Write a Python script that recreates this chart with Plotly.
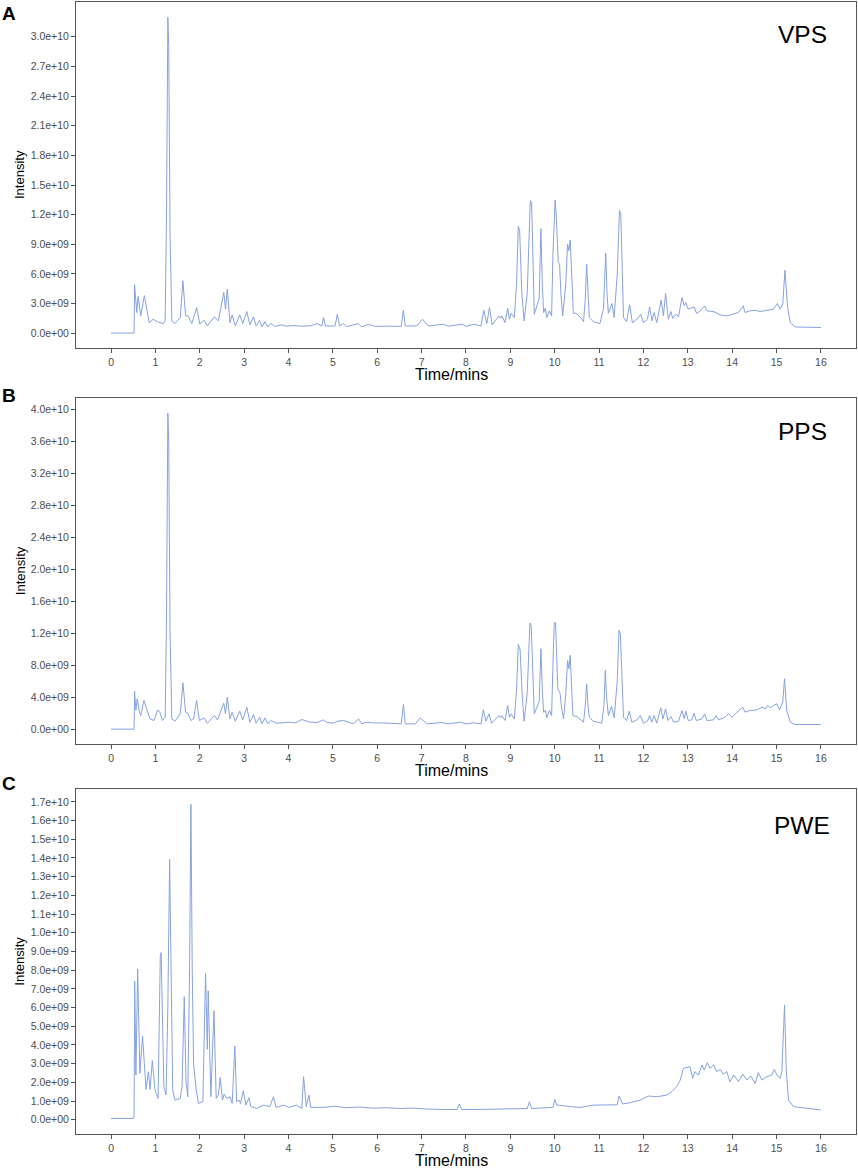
import plotly.graph_objects as go
from plotly.subplots import make_subplots

# intensities are in units of 1e9, times in minutes
SCALE = 1e9

vps_time = [0.00, 0.52, 0.53, 0.58, 0.61, 0.67, 0.75, 0.86, 0.95, 1.05, 1.18, 1.22, 1.25, 1.28, 1.30, 1.33, 1.37,
            1.44, 1.56, 1.62, 1.68, 1.74, 1.82, 1.93, 2.00, 2.10, 2.17, 2.33, 2.42, 2.54, 2.58, 2.62, 2.68, 2.73,
            2.80, 2.90, 2.97, 3.06, 3.13, 3.21, 3.27, 3.35, 3.40, 3.47, 3.53, 3.60, 3.70, 3.85, 3.95, 4.10, 4.30,
            4.50, 4.64, 4.75, 4.79, 4.83, 5.05, 5.10, 5.15, 5.24, 5.31, 5.58, 5.65, 5.76, 5.84, 5.95, 6.20, 6.54,
            6.59, 6.63, 6.89, 7.02, 7.15, 7.49, 7.60, 7.92, 8.00, 8.17, 8.34, 8.40, 8.47, 8.53, 8.59, 8.69, 8.74,
            8.78, 8.81, 8.88, 8.94, 8.98, 9.02, 9.09, 9.14, 9.18, 9.21, 9.26, 9.31, 9.38, 9.45, 9.48, 9.51, 9.54,
            9.65, 9.69, 9.72, 9.75, 9.79, 9.82, 9.88, 9.93, 9.96, 10.01, 10.04, 10.08, 10.11, 10.14, 10.18, 10.25,
            10.29, 10.32, 10.35, 10.39, 10.42, 10.48, 10.57, 10.65, 10.69, 10.72, 10.75, 10.78, 10.87, 11.02,
            11.10, 11.15, 11.18, 11.21, 11.29, 11.34, 11.41, 11.46, 11.49, 11.52, 11.55, 11.62, 11.69, 11.75,
            11.85, 11.94, 12.00, 12.09, 12.14, 12.19, 12.24, 12.30, 12.40, 12.45, 12.50, 12.56, 12.62, 12.66,
            12.74, 12.79, 12.87, 12.92, 12.955, 13.01, 13.09, 13.14, 13.20, 13.28, 13.38, 13.43, 13.58, 13.73,
            13.88, 14.03, 14.14, 14.25, 14.29, 14.40, 14.52, 14.63, 14.78, 14.93, 15.02, 15.08, 15.14, 15.19,
            15.25, 15.31, 15.42, 15.70, 16.00]
vps_int = [0.02, 0.02, 4.91, 2.10, 3.72, 1.76, 3.82, 1.08, 1.42, 1.15, 0.98, 1.30, 12.0, 31.97, 29.0, 10.0, 1.25,
           0.98, 1.59, 5.31, 1.76, 1.76, 0.98, 2.60, 0.91, 1.32, 0.74, 1.66, 1.25, 4.13, 2.44, 4.47, 1.08, 1.86,
           0.74, 1.86, 0.98, 2.20, 0.85, 1.66, 0.74, 1.32, 0.64, 1.18, 0.64, 0.98, 0.70, 0.85, 0.72, 0.78, 0.72,
           0.76, 0.98, 0.74, 1.59, 0.74, 0.74, 1.93, 0.74, 0.98, 0.68, 0.98, 0.64, 0.85, 0.85, 0.70, 0.72, 0.70,
           2.33, 0.74, 0.74, 1.42, 0.74, 0.91, 0.72, 0.91, 0.70, 0.91, 0.74, 2.33, 0.98, 2.60, 0.85, 1.42, 1.76,
           1.52, 1.76, 1.08, 2.54, 1.42, 2.03, 1.59, 5.0, 10.83, 10.39, 4.0, 1.25, 4.0, 13.43, 13.26, 6.0, 1.93,
           3.5, 10.59, 5.0, 2.10, 2.54, 1.59, 2.27, 1.76, 8.0, 13.50, 11.5, 7.17, 7.00, 4.0, 1.76, 5.0,
           9.03, 8.36, 9.44, 4.5, 2.03, 2.03, 1.66, 1.18, 3.5, 7.00, 3.5, 1.59, 1.18, 0.98,
           2.5, 8.12, 4.0, 2.03, 3.01, 1.59, 6.0, 12.42, 12.08, 6.0, 1.59, 1.18, 2.88, 1.08,
           1.42, 1.93, 1.08, 1.42, 2.67, 1.25, 2.10, 1.08, 3.35, 1.76, 4.03, 1.42, 2.20, 1.52,
           1.93, 1.66, 3.62, 2.77, 3.11, 2.44, 2.54, 2.67, 2.00, 2.27, 2.77, 2.27, 2.20, 1.86,
           1.76, 1.93, 2.10, 2.77, 2.10, 2.27, 2.33, 2.20, 2.33, 2.44, 3.01, 2.44, 2.94, 6.39,
           2.60, 1.08, 0.64, 0.60, 0.58]

pps_time = [0.00, 0.52, 0.53, 0.56, 0.59, 0.64, 0.67, 0.74, 0.79, 0.88, 0.97, 1.05, 1.10, 1.16, 1.22, 1.25, 1.28,
            1.30, 1.33, 1.37, 1.44, 1.56, 1.62, 1.68, 1.73, 1.80, 1.86, 1.93, 1.99, 2.10, 2.17, 2.33, 2.40, 2.54,
            2.58, 2.62, 2.68, 2.73, 2.80, 2.90, 2.97, 3.06, 3.13, 3.21, 3.27, 3.35, 3.40, 3.47, 3.53, 3.60, 3.73,
            3.90, 4.03, 4.15, 4.30, 4.49, 4.65, 4.79, 4.85, 5.01, 5.10, 5.24, 5.46, 5.58, 5.65, 5.76, 5.90, 6.14,
            6.54, 6.59, 6.63, 6.86, 6.97, 7.12, 7.46, 7.60, 7.87, 8.00, 8.17, 8.34, 8.39, 8.45, 8.52, 8.58, 8.69,
            8.74, 8.78, 8.81, 8.88, 8.94, 8.98, 9.02, 9.09, 9.14, 9.18, 9.22, 9.27, 9.31, 9.38, 9.44, 9.47, 9.51,
            9.54, 9.65, 9.69, 9.72, 9.75, 9.79, 9.82, 9.88, 9.93, 9.96, 9.99, 10.02, 10.05, 10.07, 10.12, 10.16,
            10.20, 10.25, 10.29, 10.32, 10.35, 10.38, 10.41, 10.50, 10.59, 10.65, 10.69, 10.72, 10.75, 10.78,
            10.87, 11.06, 11.11, 11.14, 11.17, 11.21, 11.28, 11.34, 11.41, 11.45, 11.48, 11.52, 11.55, 11.62,
            11.68, 11.74, 11.85, 11.93, 12.00, 12.09, 12.14, 12.19, 12.24, 12.30, 12.39, 12.44, 12.50, 12.55,
            12.62, 12.68, 12.79, 12.87, 12.92, 12.955, 13.01, 13.09, 13.14, 13.19, 13.32, 13.38, 13.43, 13.58,
            13.64, 13.69, 13.81, 13.92, 14.00, 14.11, 14.24, 14.29, 14.40, 14.56, 14.67, 14.75, 14.80, 14.86,
            14.93, 15.01, 15.07, 15.14, 15.18, 15.23, 15.31, 15.42, 16.00]
pps_int = [0.05, 0.05, 4.80, 2.40, 3.84, 2.17, 1.75, 3.63, 2.79, 1.33, 1.13, 2.46, 2.17, 1.13, 1.54, 14.0, 39.50,
           36.0, 12.0, 1.33, 1.04, 1.96, 5.84, 2.17, 2.04, 1.13, 1.33, 3.63, 1.13, 1.46, 0.79, 1.75, 1.21, 3.30,
           1.96, 4.05, 1.33, 2.17, 1.04, 2.29, 1.21, 2.79, 0.92, 1.88, 0.79, 1.54, 0.71, 1.46, 0.71, 1.13, 0.79,
           0.88, 0.92, 0.83, 1.25, 0.92, 0.88, 1.21, 0.92, 0.79, 1.04, 1.13, 0.71, 1.33, 0.71, 0.92, 0.83, 0.83,
           0.71, 3.13, 0.71, 0.71, 1.46, 0.71, 0.88, 0.71, 0.92, 0.71, 0.83, 0.71, 2.46, 1.04, 1.96, 0.79, 1.54,
           1.75, 1.46, 1.75, 1.13, 3.00, 1.54, 1.96, 1.33, 5.0, 10.64, 9.97, 4.0, 1.04, 4.5, 13.31, 13.01, 6.0,
           1.96, 3.5, 10.09, 5.0, 2.17, 2.38, 1.46, 2.38, 1.75, 8.0, 13.35, 13.31, 8.0, 5.09, 4.55, 2.5,
           1.33, 4.5, 8.63, 7.59, 9.26, 5.0, 1.75, 1.63, 1.13, 0.92, 3.0, 5.71, 3.0, 1.54,
           1.04, 0.79, 3.0, 7.38, 4.0, 1.75, 2.88, 1.46, 6.0, 12.39, 11.97, 5.0, 1.54, 1.13,
           2.29, 0.92, 1.21, 1.75, 0.79, 1.04, 1.75, 0.92, 1.75, 0.79, 2.71, 1.33, 2.59, 1.13,
           1.63, 0.92, 1.04, 2.38, 1.33, 2.29, 1.13, 1.21, 2.04, 1.13, 1.33, 1.96, 1.13, 1.21,
           1.75, 1.21, 1.46, 1.96, 1.54, 2.17, 2.79, 2.17, 2.38, 2.46, 2.79, 2.59, 3.00, 2.71,
           3.00, 3.21, 2.46, 3.42, 6.34, 2.38, 0.92, 0.63, 0.63]

pwe_time = [0.00, 0.51, 0.52, 0.533, 0.56, 0.60, 0.65, 0.71, 0.75, 0.79, 0.84, 0.88, 0.93, 0.99, 1.06, 1.11, 1.13,
            1.19, 1.24, 1.28, 1.32, 1.36, 1.39, 1.44, 1.56, 1.60, 1.65, 1.69, 1.73, 1.77, 1.80, 1.83, 1.86, 1.92,
            1.97, 2.07, 2.13, 2.17, 2.19, 2.25, 2.32, 2.37, 2.42, 2.46, 2.51, 2.55, 2.61, 2.68, 2.73, 2.79, 2.83,
            2.89, 2.92, 2.98, 3.04, 3.11, 3.15, 3.28, 3.43, 3.58, 3.66, 3.72, 3.90, 4.00, 4.18, 4.30, 4.34, 4.40,
            4.46, 4.50, 4.80, 5.05, 5.30, 5.60, 5.90, 6.20, 6.50, 6.80, 7.10, 7.50, 7.80, 7.85, 7.90, 8.30, 8.70,
            9.10, 9.38, 9.43, 9.48, 9.96, 10.00, 10.05, 10.09, 10.35, 10.57, 10.87, 11.14, 11.36, 11.41, 11.45,
            11.53, 11.70, 11.93, 12.11, 12.30, 12.53, 12.64, 12.75, 12.83, 12.90, 12.96, 13.05, 13.11, 13.16,
            13.24, 13.32, 13.37, 13.44, 13.50, 13.58, 13.65, 13.73, 13.80, 13.88, 13.95, 14.04, 14.14, 14.24,
            14.33, 14.42, 14.52, 14.59, 14.67, 14.78, 14.89, 14.95, 15.01, 15.08, 15.12, 15.18, 15.22, 15.27,
            15.38, 15.68, 16.00]
pwe_int = [0.07, 0.07, 0.34, 7.42, 2.39, 8.06, 2.48, 4.48, 3.01, 1.62, 2.57, 1.62, 3.16, 1.59, 1.14, 8.81, 8.94,
           1.77, 1.32, 6.0, 13.93, 5.0, 1.59, 1.05, 1.14, 1.77, 6.58, 2.03, 1.23, 8.0, 16.87, 8.0, 3.01, 1.59,
           0.87, 0.96, 7.83, 3.76, 6.90, 1.23, 5.83, 1.14, 1.32, 2.25, 1.05, 1.37, 1.14, 1.23, 0.87, 3.94, 0.96,
           1.05, 0.87, 1.55, 0.78, 1.18, 0.70, 0.61, 0.78, 0.70, 1.23, 0.66, 0.78, 0.66, 0.78, 0.61, 2.30, 0.70,
           1.32, 0.66, 0.66, 0.72, 0.64, 0.68, 0.62, 0.64, 0.60, 0.62, 0.57, 0.55, 0.55, 0.84, 0.55, 0.55, 0.57,
           0.58, 0.60, 0.96, 0.60, 0.66, 1.09, 0.78, 0.78, 0.70, 0.66, 0.78, 0.78, 0.78, 0.80, 1.27,
           0.84, 0.91, 1.05, 1.27, 1.23, 1.32, 1.50, 1.77, 2.12, 2.75, 2.80, 2.84, 2.21, 2.57,
           2.39, 2.93, 2.66, 3.05, 2.75, 2.93, 2.57, 2.69, 2.44, 2.57, 2.03, 2.39, 2.03, 2.44,
           2.12, 2.34, 1.94, 2.52, 2.12, 2.30, 2.39, 2.69, 2.39, 2.21, 2.57, 6.14, 2.66, 1.05,
           0.70, 0.61, 0.52]

x_ticks = list(range(0, 17))
vps_ticks = [i * 3e9 for i in range(11)]
pps_ticks = [i * 4e9 for i in range(11)]
pwe_ticks = [i * 1e9 for i in range(18)]

LINE_COLOR = "#85a2e2"
FONT = "Liberation Sans, Arial, Helvetica, sans-serif"

panels = [
    ("A", "VPS", vps_time, vps_int, vps_ticks, [-1.49e9, 3.352e10]),
    ("B", "PPS", pps_time, pps_int, pps_ticks, [-1.84e9, 4.138e10]),
    ("C", "PWE", pwe_time, pwe_int, pwe_ticks, [-0.78e9, 1.769e10]),
]

W, H = 858, 1168
# pixel boxes of each plot frame (top, bottom), and y of the x-axis title
frames = [(2, 348), (398, 744.3), (789, 1134.3)]
xtitle_y = [374.5, 770.5, 1160.5]
letter_y = [14, 395.7, 783.3]
name_y = [34.2, 432, 825.8]

fig = make_subplots(rows=3, cols=1)

annotations = []
for i, (letter, name, t, v, yticks, yrange) in enumerate(panels):
    row = i + 1
    fig.add_trace(go.Scatter(x=t, y=[val * SCALE for val in v], mode="lines",
                             line=dict(color=LINE_COLOR, width=1), showlegend=False,
                             hoverinfo="skip"), row=row, col=1)
    top, bottom = frames[i]
    fig.update_xaxes(domain=[76 / W, 855.5 / W], range=[-0.79, 16.78], tickvals=x_ticks,
                     row=row, col=1)
    fig.update_yaxes(domain=[1 - bottom / H, 1 - top / H], range=yrange, tickvals=yticks,
                     ticktext=[f"{val:.1e}" for val in yticks], row=row, col=1)

    mid = (top + bottom) / 2
    annotations += [
        dict(text="<b>%s</b>" % letter, x=9 / W, y=1 - letter_y[i] / H, font=dict(size=19, color="black")),
        dict(text=name, x=802 / W, y=1 - name_y[i] / H, font=dict(size=24.5, color="black")),
        dict(text="Intensity", x=20 / W, y=1 - mid / H, textangle=-90, font=dict(size=13, color="black")),
        dict(text="Time/mins", x=451 / W, y=1 - xtitle_y[i] / H, font=dict(size=16, color="black")),
    ]

for a in annotations:
    a.update(xref="paper", yref="paper", showarrow=False, xanchor="center", yanchor="middle")

axis_style = dict(showline=True, mirror=True, linecolor="#555555", linewidth=1,
                  ticks="outside", ticklen=4, tickwidth=1, tickcolor="#555555",
                  showgrid=False, zeroline=False,
                  tickfont=dict(size=10.5, color="#4d4d4d", family=FONT))
fig.update_xaxes(**axis_style)
fig.update_yaxes(**axis_style)

fig.update_layout(width=W, height=H, margin=dict(l=0, r=0, t=0, b=0),
                  plot_bgcolor="white", paper_bgcolor="white",
                  font=dict(family=FONT), annotations=annotations, showlegend=False)

# the page body has a default 8px margin; drop it so the figure fills the window
fig.write_html("out.html", config={"displayModeBar": False},
               post_script="document.body.style.margin='0'; document.body.style.overflow='hidden';")
